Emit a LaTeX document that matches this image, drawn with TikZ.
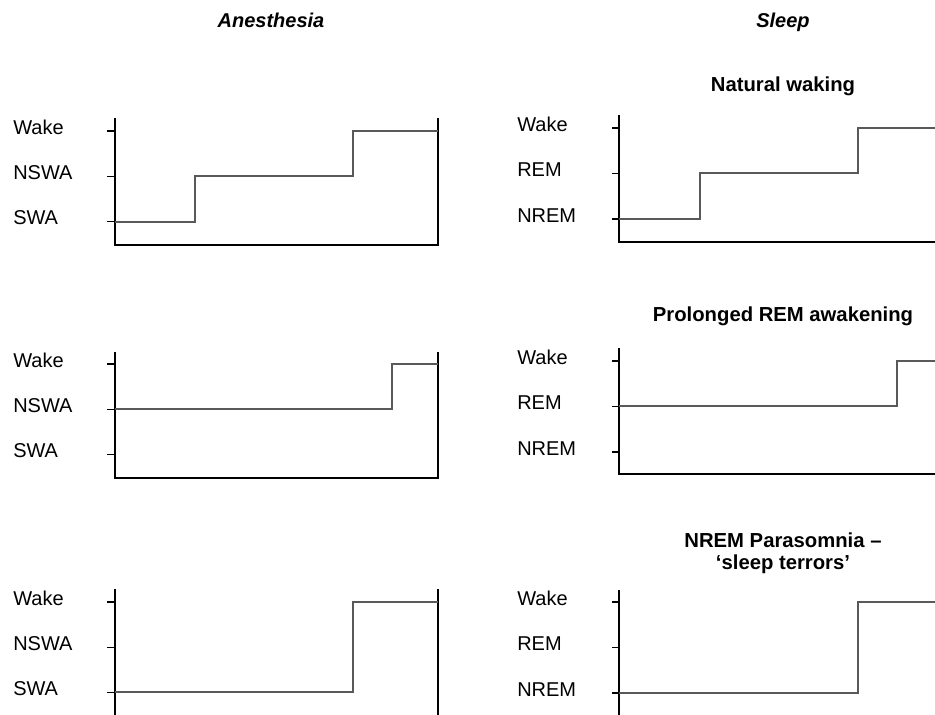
\documentclass[tikz,border=0pt]{standalone}
\usepackage{fontspec}
\setmainfont{Liberation Sans}
\tikzset{
  axis line/.style={draw=black, line width=0.9pt},
  hypno/.style={draw=black!65, line width=0.85pt},
  state/.style={anchor=base west, inner sep=0pt, font=\fontsize{15}{18}\selectfont},
  panel title/.style={anchor=base, inner sep=0pt, align=center, font=\fontsize{15.2}{16.2}\selectfont\bfseries},
  column head/.style={anchor=base, inner sep=0pt, font=\fontsize{15}{18}\selectfont\bfseries\itshape}
}
\begin{document}
\begin{tikzpicture}[x=0.75pt, y=-0.75pt]
  \useasboundingbox (0,0) rectangle (935,714);

  % column heads
  \node[column head] (anes) at (271,27) {Anesthesia};
  \node[column head] (sleep) at (783,27) {Sleep};

  % panel titles (sleep side)
  \node[panel title] (natural) at (783,91) {Natural waking};
  \node[panel title] (prolonged) at (783,321) {Prolonged REM awakening};
  \node[panel title] (parasom) at (783,569) {NREM Parasomnia --\\`sleep terrors'};

  % anesthesia axes
  \foreach \top/\bot/\w in {118/245/131, 352/478/364, 589/716/602} {
    \path[axis line] (115,\top) -- (115,\bot) -- (438,\bot) -- (438,\top);
    \foreach \k/\lab in {0/Wake, 1/NSWA, 2/SWA} {
      \path[axis line] (107,\w+45.3*\k) -- (115,\w+45.3*\k);
      \node[state] at (13,\w+45.3*\k+3) {\lab};
    }
  }

  % sleep axes
  \foreach \top/\bot/\w in {115/242/128, 348/474/361, 590/716/602} {
    \path[axis line] (619,\top) -- (619,\bot) -- (936,\bot);
    \foreach \k/\lab in {0/Wake, 1/REM, 2/NREM} {
      \path[axis line] (612,\w+45.5*\k) -- (619,\w+45.5*\k);
      \node[state] at (517,\w+45.5*\k+3) {\lab};
    }
  }

  % hypnograms
  \path[hypno] (115,222) -- (195,222) -- (195,176) -- (353,176) -- (353,131) -- (438,131);
  \path[hypno] (115,409) -- (392,409) -- (392,364) -- (438,364);
  \path[hypno] (115,692) -- (353,692) -- (353,602) -- (438,602);
  \path[hypno] (619,219) -- (700,219) -- (700,173) -- (858,173) -- (858,128) -- (936,128);
  \path[hypno] (619,406) -- (897,406) -- (897,361) -- (936,361);
  \path[hypno] (619,693) -- (858,693) -- (858,602) -- (936,602);
\end{tikzpicture}
\end{document}
